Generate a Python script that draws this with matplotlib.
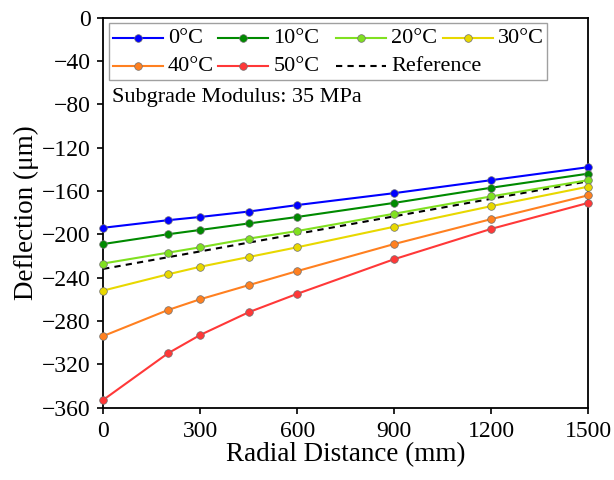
import matplotlib
matplotlib.use("Agg")
import matplotlib.pyplot as plt
from matplotlib.patches import Rectangle

plt.rcParams['font.family'] = ['Liberation Serif', 'DejaVu Serif']

# radial distance (mm)
radial = [0, 200, 300, 450, 600, 900, 1200, 1500]

# deflection (um) at each temperature
temp_labels = ['0°C', '10°C', '20°C', '30°C', '40°C', '50°C']
defl_0 = [-194, -187, -184, -179, -173, -162, -150, -138]
defl_10 = [-209, -200, -196, -190, -184, -171, -157, -144]
defl_20 = [-227, -217, -212, -204, -197, -181, -165, -150]
defl_30 = [-252, -237, -230, -221, -212, -193, -174, -156]
defl_40 = [-294, -270, -260, -247, -234, -209, -186, -164]
defl_50 = [-353, -310, -293, -272, -255, -223, -195, -171]
series = [defl_0, defl_10, defl_20, defl_30, defl_40, defl_50]

ref_x = [0, 1500]
ref_y = [-232, -151]

colors = ['#0000ff', '#008a00', '#80e020', '#e8d800', '#ff8020', '#ff3838']

fig = plt.figure(figsize=(6.14, 4.8), dpi=100)
ax = fig.add_axes([0.168, 0.151, 0.790, 0.812])

mstyle = dict(ms=5.5, mec='#707070', mew=0.5)
for lab, vals, c in zip(temp_labels, series, colors):
    ax.plot(radial, vals, '-o', color=c, lw=1.5, mfc=c, label=lab,
            clip_on=False, zorder=3, **mstyle)
ax.plot(ref_x, ref_y, '--', color='black', lw=1.5, dashes=(3, 2.5),
        label='Reference', zorder=2)

ax.set_xlim(0, 1500)
ax.set_ylim(-360, 0)
ax.set_xticks([0, 300, 600, 900, 1200, 1500])
ax.set_yticks(range(-360, 1, 40))
ax.set_yticklabels([str(v).replace('-', '\u2212') for v in range(-360, 1, 40)])
ax.tick_params(direction='out', length=4, width=1.2, labelsize=17)
ax.tick_params(axis='x', pad=6)
ax.tick_params(axis='y', pad=5)
for s in ax.spines.values():
    s.set_linewidth(1.3)

ax.set_xlabel('Radial Distance (mm)', fontsize=19.5, labelpad=0)
ax.set_ylabel('Deflection (\u03bcm)', fontsize=19.5, labelpad=2)

# legend drawn by hand: the original uses uneven columns
tr = ax.transAxes
ax.add_patch(Rectangle((0.012, 0.840), 0.903, 0.147, transform=tr,
                       fill=True, fc='white', ec='#a0a0a0', lw=1.0, zorder=5))
col_x = [0.0194, 0.237, 0.480, 0.700]
row_y = [0.948, 0.876]
hlen = 0.103
entries = [(temp_labels[i], colors[i], 'marker') for i in range(6)]
entries.append(('Reference', 'black', 'dash'))
for k, (lab, c, kind) in enumerate(entries):
    x0 = col_x[k % 4]
    y0 = row_y[k // 4]
    if kind == 'marker':
        ax.plot([x0, x0 + hlen], [y0, y0], '-', color=c, lw=1.5,
                transform=tr, clip_on=False, zorder=6)
        ax.plot([x0 + hlen / 2], [y0], 'o', mfc=c, transform=tr,
                clip_on=False, zorder=7, **mstyle)
    else:
        ax.plot([x0, x0 + hlen], [y0, y0], '--', color=c, lw=1.5,
                dashes=(3, 2.5), transform=tr, clip_on=False, zorder=6)
    ax.text(x0 + hlen + 0.011, y0, lab, transform=tr, fontsize=16,
            va='center', ha='left', zorder=7)

ax.text(0.018, 0.796, 'Subgrade Modulus: 35 MPa', transform=tr,
        fontsize=16, va='center', ha='left')

fig.savefig('out.png', dpi=100)
